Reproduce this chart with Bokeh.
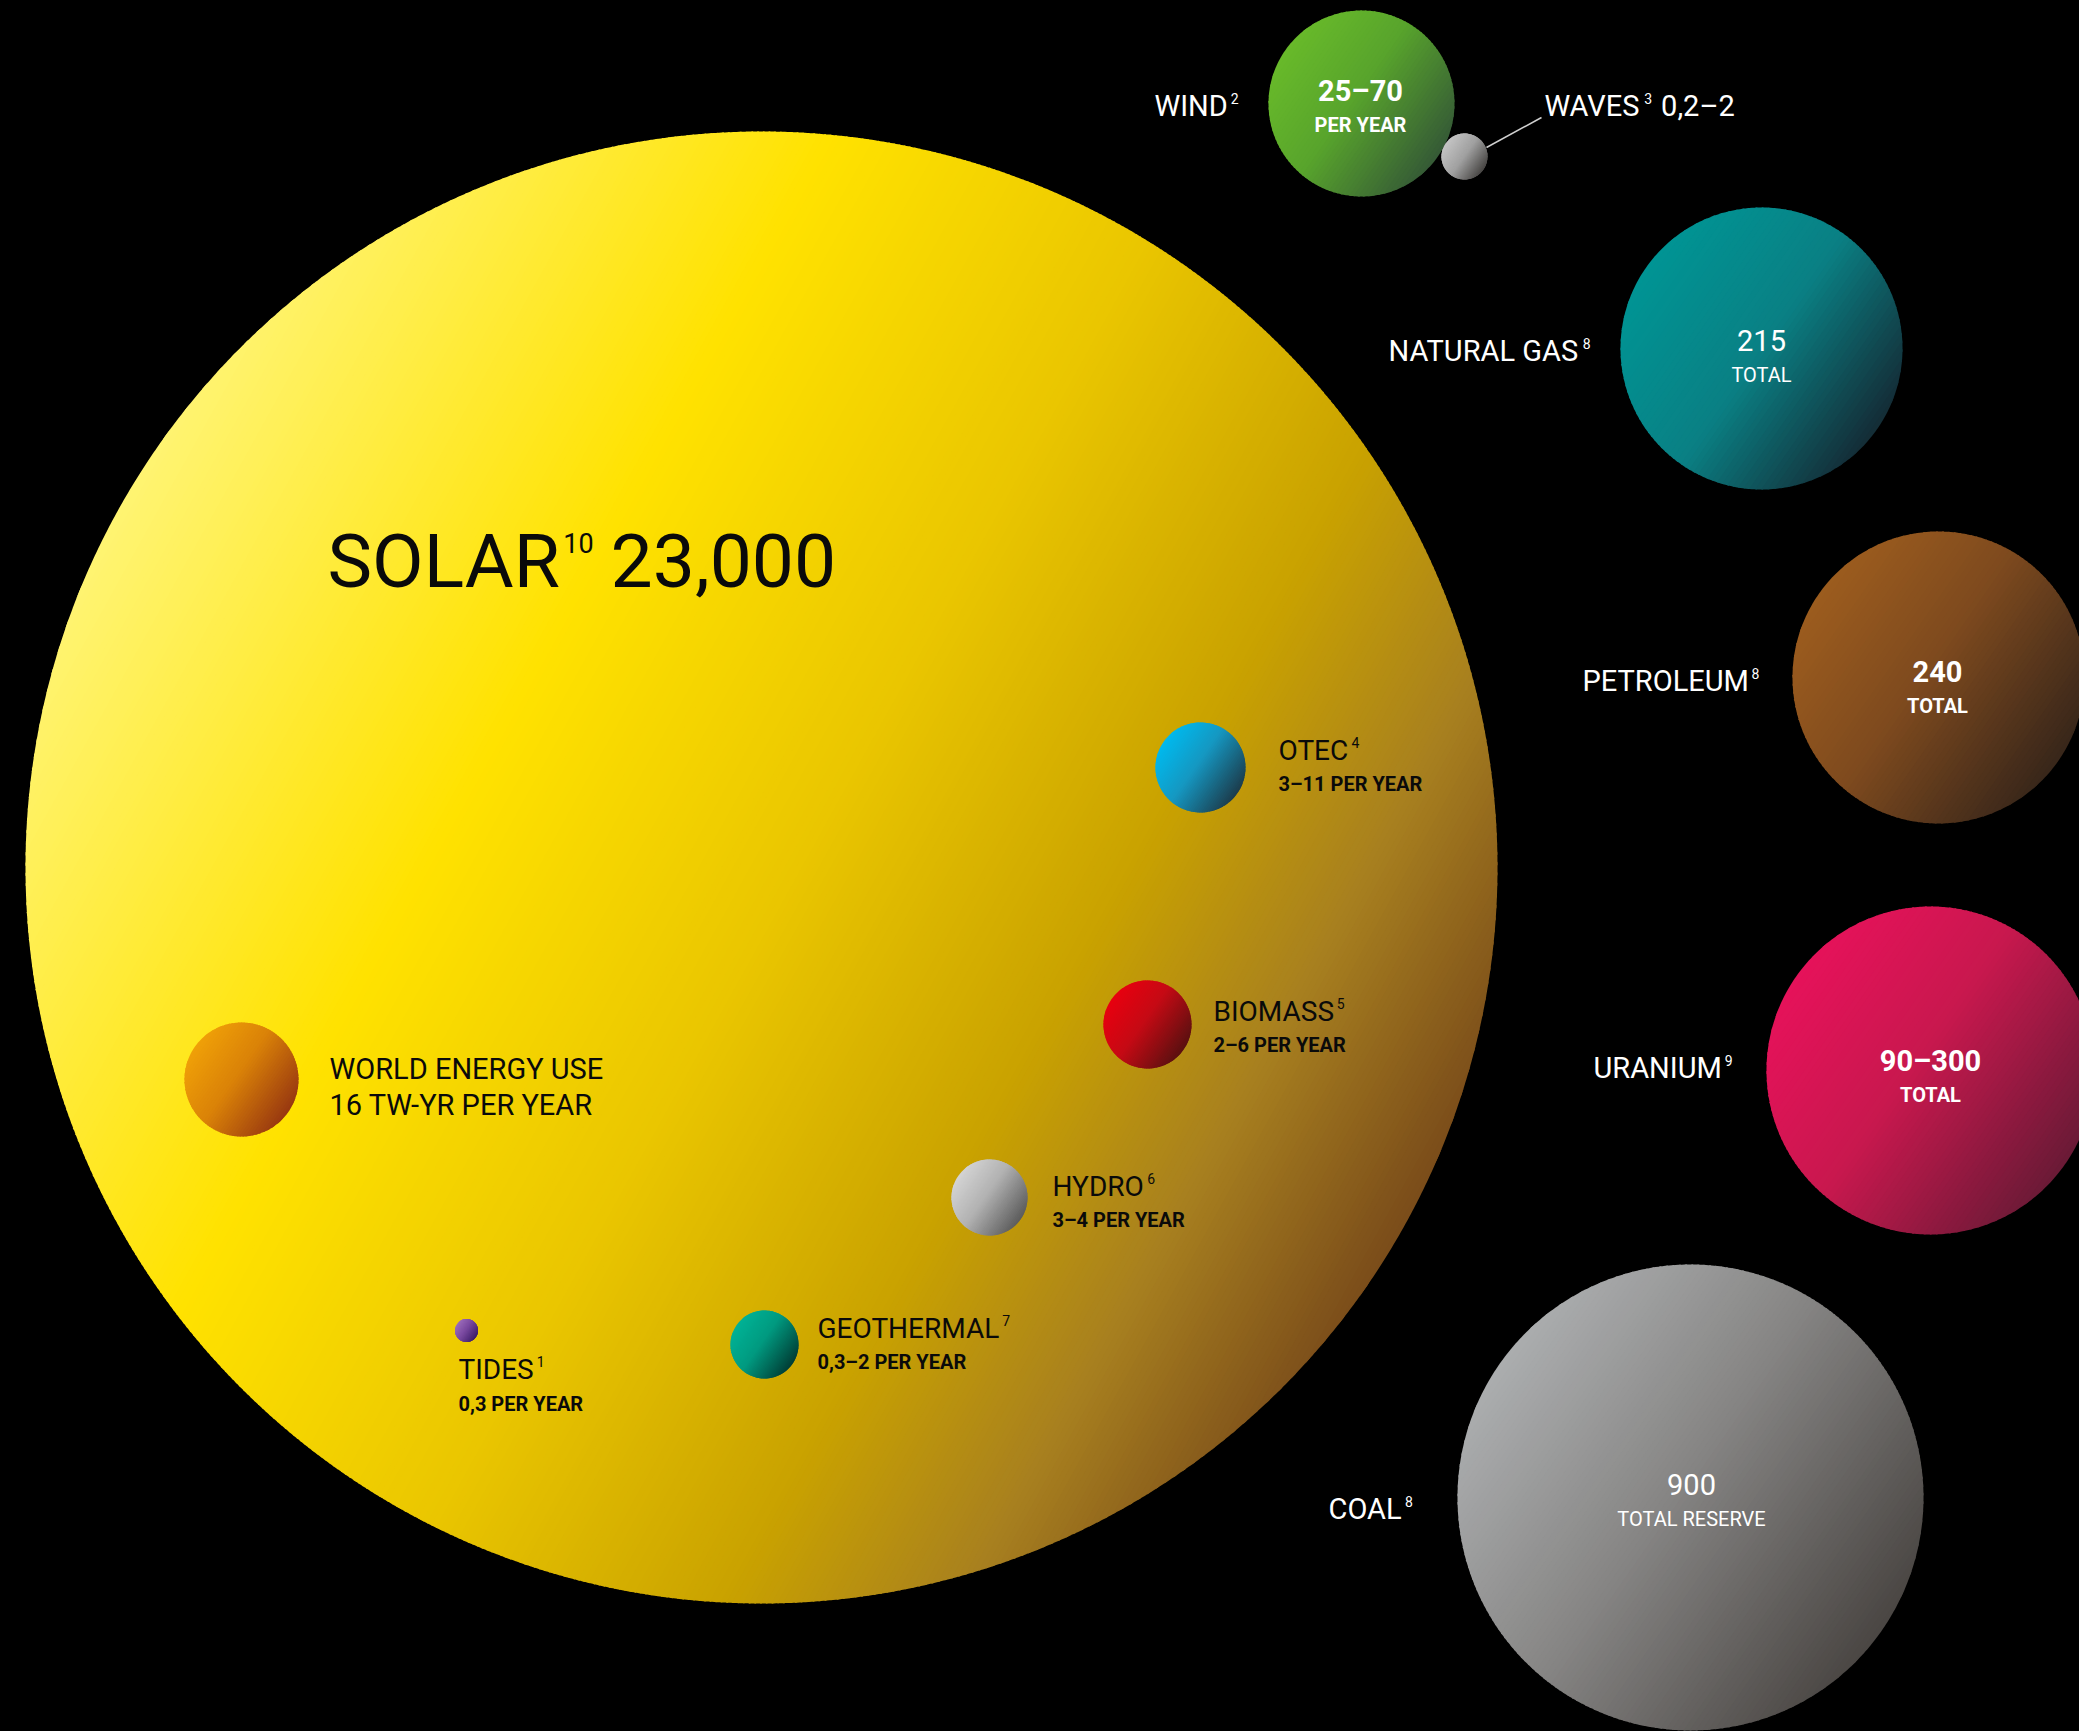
import numpy as np
from bokeh.plotting import figure
from bokeh.models import Range1d, ColumnDataSource
from bokeh.core.properties import value
from bokeh.embed import file_html
from bokeh.resources import INLINE

# ---------------- data ----------------
names = ["SOLAR", "WIND", "WAVES", "NATURAL GAS", "PETROLEUM", "URANIUM", "COAL",
         "OTEC", "BIOMASS", "HYDRO", "GEOTHERMAL", "TIDES", "WORLD ENERGY USE"]
footnotes = ["10", "2", "3", "8", "8", "9", "8", "4", "5", "6", "7", "1", ""]
amount_labels = ["23,000", "25–70", "0,2–2", "215", "240", "90–300", "900",
                 "3–11", "2–6", "3–4", "0,3–2", "0,3", "16 TW-YR"]
unit_labels = ["", "PER YEAR", "", "TOTAL", "TOTAL", "TOTAL", "TOTAL RESERVE",
               "PER YEAR", "PER YEAR", "PER YEAR", "PER YEAR", "PER YEAR", "PER YEAR"]
amounts_twyr = [23000, 47.5, 1.1, 215, 240, 195, 900, 7, 4, 3.5, 1.15, 0.3, 16]

# ---------------- layout (page pixels) ----------------
cx = [761, 1361, 1464, 1761, 1938, 1930, 1690, 1200, 1147, 989, 764, 466, 241]
cy = [867, 103, 156, 348, 677, 1070, 1497, 767, 1024, 1197, 1344, 1330, 1079]
rad = [736, 93, 23, 141, 146, 164, 233, 45, 44, 38, 34, 11.5, 57]

grad_stops = [
    [(0, "#FFF472"), (0.30, "#FFE200"), (0.52, "#EAC600"), (0.72, "#C9A200"), (0.86, "#A8801F"), (1.0, "#7A4C1A")],
    [(0, "#68BA2A"), (0.45, "#58A42C"), (1, "#355A36")],
    [(0, "#C4C4C4"), (0.5, "#A0A0A0"), (1, "#484644")],
    [(0, "#009494"), (0.5, "#0A8084"), (1, "#142C36")],
    [(0, "#9C5C1E"), (0.45, "#7E4A1E"), (1, "#38261A")],
    [(0, "#E6125A"), (0.45, "#C8184E"), (1, "#6A1A36")],
    [(0, "#ABADAE"), (0.45, "#878685"), (1, "#4A4643")],
    [(0, "#00BAEE"), (0.45, "#1598C2"), (1, "#1C3C4C")],
    [(0, "#E8000F"), (0.45, "#C50A14"), (1, "#5A1010")],
    [(0, "#D4D4D4"), (0.45, "#B2B2B2"), (1, "#5C5C5C")],
    [(0, "#00B296"), (0.45, "#009A80"), (1, "#003E36")],
    [(0, "#9C6CBA"), (0.45, "#7A4AA0"), (1, "#3E1E6A")],
    [(0, "#F0A008"), (0.45, "#DA8208"), (1, "#983810")],
]
grad_angle = [29] + [35] * 12

FONT = "Roboto"
BASE_SHIFT = 0.40   # em; lifts bokeh's drawn text onto the intended baseline

name_x = [327, 1154, 1544, 1388, 1582, 1593, 1328, 1278, 1213, 1052, 817, 458, 329]
name_y = [590, 117, 117, 362, 692, 1079, 1520, 761, 1022, 1197, 1339, 1380, 1080]
name_size = [75, 29, 29, 29, 29, 29, 29, 28, 28, 28, 28, 28, 29]
inside = [True, False, False, False, False, False, False, True, True, True, True, True, True]
sup_size = [27, 14, 14, 14, 14, 14, 14, 14, 14, 14, 14, 14, 14]
sup_gap = [4, 3, 3, 3, 3, 3, 3, 3, 3, 3, 3, 3, 3]
sup_lift = [-3, -3, -3, -3, -3, -3, -3, -3, -3, -3, -3, -3, -3]

amt_x = [0, 1360, 0, 1761, 1937, 1930, 1691]
amt_y = [590, 102, 117, 352, 683, 1072, 1496]
unit_y = [0, 132, 0, 382, 713, 1102, 1526]
amt_bold = [False, True, False, False, True, True, False]
sub_y = [0, 0, 0, 0, 0, 0, 0, 791, 1052, 1227, 1369, 1411, 1116]

# approximate Roboto advance widths (em) used to place the superscripts
ROBOTO_W = dict(A=.652, B=.623, C=.651, D=.656, E=.568, F=.553, G=.681, H=.713, I=.272,
                J=.552, K=.627, L=.540, M=.872, N=.713, O=.688, P=.631, Q=.688, R=.616,
                S=.594, T=.597, U=.648, V=.636, W=.886, X=.627, Y=.601, Z=.599)
ROBOTO_W.update({d: .562 for d in "0123456789"})
ROBOTO_W.update({" ": .248, ",": .196, "-": .276, "–": .676})
CAP = 0.711


def text_w(s, size):
    return sum(ROBOTO_W.get(ch, .6) for ch in s) * size


def ty(y, size):
    return y - BASE_SHIFT * size


# ---------------- helpers ----------------
def hex2rgb(h):
    return tuple(int(h[i:i + 2], 16) for i in (1, 3, 5))


def interp(stops, t):
    for (t0, c0), (t1, c1) in zip(stops[:-1], stops[1:]):
        if t <= t1:
            f = (t - t0) / (t1 - t0) if t1 > t0 else 0.0
            a, b = hex2rgb(c0), hex2rgb(c1)
            return "#%02x%02x%02x" % tuple(int(round(a[i] + (b[i] - a[i]) * f)) for i in range(3))
    return stops[-1][1]


def gradient_bands(x0, y0, r, ang_deg, stops):
    n = max(48, int(r / 2.5))
    a = np.radians(ang_deg)
    dx, dy = np.cos(a), np.sin(a)
    edges = np.linspace(-r, r, n + 1)
    xs, ys, cols = [], [], []
    for i in range(n):
        u0 = edges[i]
        u1 = min(edges[i + 1] + 1.5, r)   # overlap the next band to hide seams
        ta = np.arccos(np.clip(u1 / r, -1, 1))
        tb = np.arccos(np.clip(u0 / r, -1, 1))
        m = max(3, int((tb - ta) * r / 3) + 2)
        th = np.concatenate([np.linspace(ta, tb, m), np.linspace(-tb, -ta, m)])
        u = r * np.cos(th)
        v = r * np.sin(th)
        xs.append(list(np.round(x0 + u * dx - v * dy, 2)))
        ys.append(list(np.round(y0 + u * dy + v * dx, 2)))
        cols.append(interp(stops, (i + 0.5) / n))
    return xs, ys, cols


# ---------------- figure ----------------
W, H = 2079, 1731
p = figure(width=W, height=H, x_range=Range1d(0, W), y_range=Range1d(H, 0),
           output_backend="svg", toolbar_location=None, min_border=0,
           background_fill_color="black", border_fill_color="black")
p.outline_line_color = None
p.axis.visible = False
p.grid.visible = False

for i in range(len(names)):
    xs, ys, cols = gradient_bands(cx[i], cy[i], rad[i], grad_angle[i], grad_stops[i])
    p.patches(xs=xs, ys=ys, fill_color=cols, line_color=None)

# leader line for WAVES
p.segment(x0=[1486], y0=[147], x1=[1541], y1=[117], line_color="#D0D0D0", line_width=1.5)

ink = ["#0A0A0A" if f else "#FFFFFF" for f in inside]

# names
src_names = ColumnDataSource(dict(
    x=name_x, y=[ty(name_y[i], name_size[i]) for i in range(len(names))], text=names,
    size=["%dpx" % s for s in name_size], color=ink))
p.text(x="x", y="y", text="text", source=src_names, text_font=value(FONT),
       text_font_size="size", text_color="color", text_baseline="alphabetic", text_align="left")

# footnote superscripts, set against the cap line of each name
idx = [i for i in range(len(names)) if footnotes[i]]
sup_x = [name_x[i] + text_w(names[i], name_size[i]) + sup_gap[i] for i in range(len(names))]
sup_y = [name_y[i] - CAP * name_size[i] + CAP * sup_size[i] + sup_lift[i] for i in range(len(names))]
src_sup = ColumnDataSource(dict(
    x=[sup_x[i] for i in idx], y=[ty(sup_y[i], sup_size[i]) for i in idx],
    text=[footnotes[i] for i in idx],
    size=["%dpx" % sup_size[i] for i in idx], color=[ink[i] for i in idx]))
p.text(x="x", y="y", text="text", source=src_sup, text_font=value(FONT),
       text_font_size="size", text_color="color", text_baseline="alphabetic", text_align="left")

# solar amount and waves amount, following their superscripts
solar_amt_x = sup_x[0] + text_w(footnotes[0], sup_size[0]) + 17
waves_amt_x = sup_x[2] + text_w(footnotes[2], sup_size[2]) + 9
p.text(x=[solar_amt_x], y=[ty(amt_y[0], name_size[0])], text=[amount_labels[0]], text_font=value(FONT),
       text_font_size="%dpx" % name_size[0], text_color="#0A0A0A", text_baseline="alphabetic")
p.text(x=[waves_amt_x], y=[ty(amt_y[2], name_size[2])], text=[amount_labels[2]], text_font=value(FONT),
       text_font_size="%dpx" % name_size[2], text_color="#FFFFFF", text_baseline="alphabetic")

# amounts inside the outer bubbles
for style in (True, False):
    ext = [i for i in (1, 3, 4, 5, 6) if amt_bold[i] == style]
    fs = "bold" if style else "normal"
    p.text(x=[amt_x[i] for i in ext], y=[ty(amt_y[i], 29) for i in ext], text=[amount_labels[i] for i in ext],
           text_font=value(FONT), text_font_size="29px", text_font_style=fs,
           text_color="#FFFFFF", text_baseline="alphabetic", text_align="center")
    p.text(x=[amt_x[i] for i in ext], y=[ty(unit_y[i], 20) for i in ext], text=[unit_labels[i] for i in ext],
           text_font=value(FONT), text_font_size="20px", text_font_style=fs,
           text_color="#FFFFFF", text_baseline="alphabetic", text_align="center")

# sub-lines inside the solar bubble
sub = [7, 8, 9, 10, 11]
p.text(x=[name_x[i] for i in sub], y=[ty(sub_y[i], 20) for i in sub],
       text=[amount_labels[i] + " " + unit_labels[i] for i in sub],
       text_font=value(FONT), text_font_size="20px", text_font_style="bold",
       text_color="#0A0A0A", text_baseline="alphabetic", text_align="left")
p.text(x=[name_x[12]], y=[ty(sub_y[12], 29)], text=[amount_labels[12] + " " + unit_labels[12]],
       text_font=value(FONT), text_font_size="29px",
       text_color="#0A0A0A", text_baseline="alphabetic", text_align="left")

html = file_html(p, INLINE)
html = html.replace("<head>",
                    "<head><style>html,body{margin:0;padding:0;overflow:hidden;background:#000000;}</style>", 1)
open("out.html", "w").write(html)
